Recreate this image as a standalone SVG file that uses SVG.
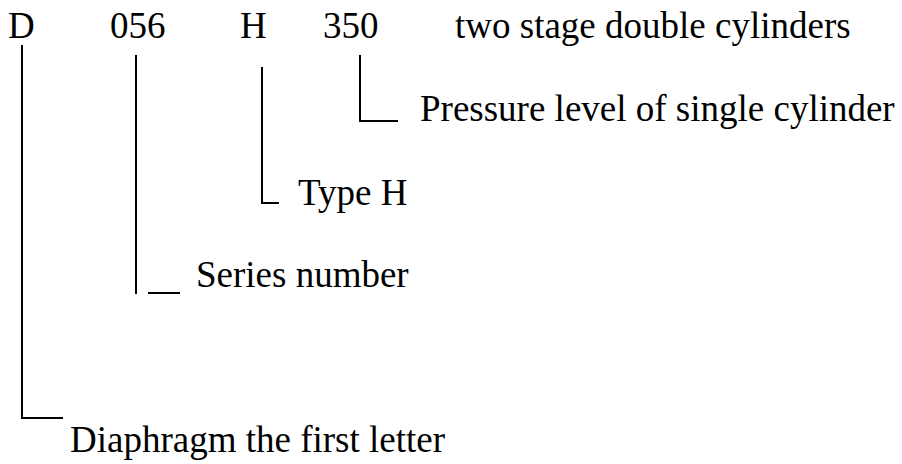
<svg xmlns="http://www.w3.org/2000/svg" width="902" height="464" viewBox="0 0 902 464">
<style>
text { font-family: "Liberation Serif", "Times New Roman", serif; font-size: 37px; fill: #000; }
.ln { stroke: #000; stroke-width: 2; fill: none; }
</style>
<rect width="902" height="464" fill="#fff"/>
<g id="code">
<text x="8" y="38">D</text>
<text x="110" y="38">056</text>
<text x="240" y="38">H</text>
<text x="323" y="38">350</text>
<text x="455" y="38">two stage double cylinders</text>
</g>
<g id="connectors">
<path class="ln" d="M22,45 V418 H63"/>
<path class="ln" d="M136,55 V294"/>
<path class="ln" d="M148,293 H180"/>
<path class="ln" d="M262,67 V203 H279"/>
<path class="ln" d="M360,55 V121 H398"/>
</g>
<g id="label-pressure"><text x="420" y="121">Pressure level of single cylinder</text></g>
<g id="label-type"><text x="298" y="205">Type H</text></g>
<g id="label-series"><text x="196" y="287">Series number</text></g>
<g id="label-diaphragm"><text x="70" y="452">Diaphragm the first letter</text></g>
</svg>
